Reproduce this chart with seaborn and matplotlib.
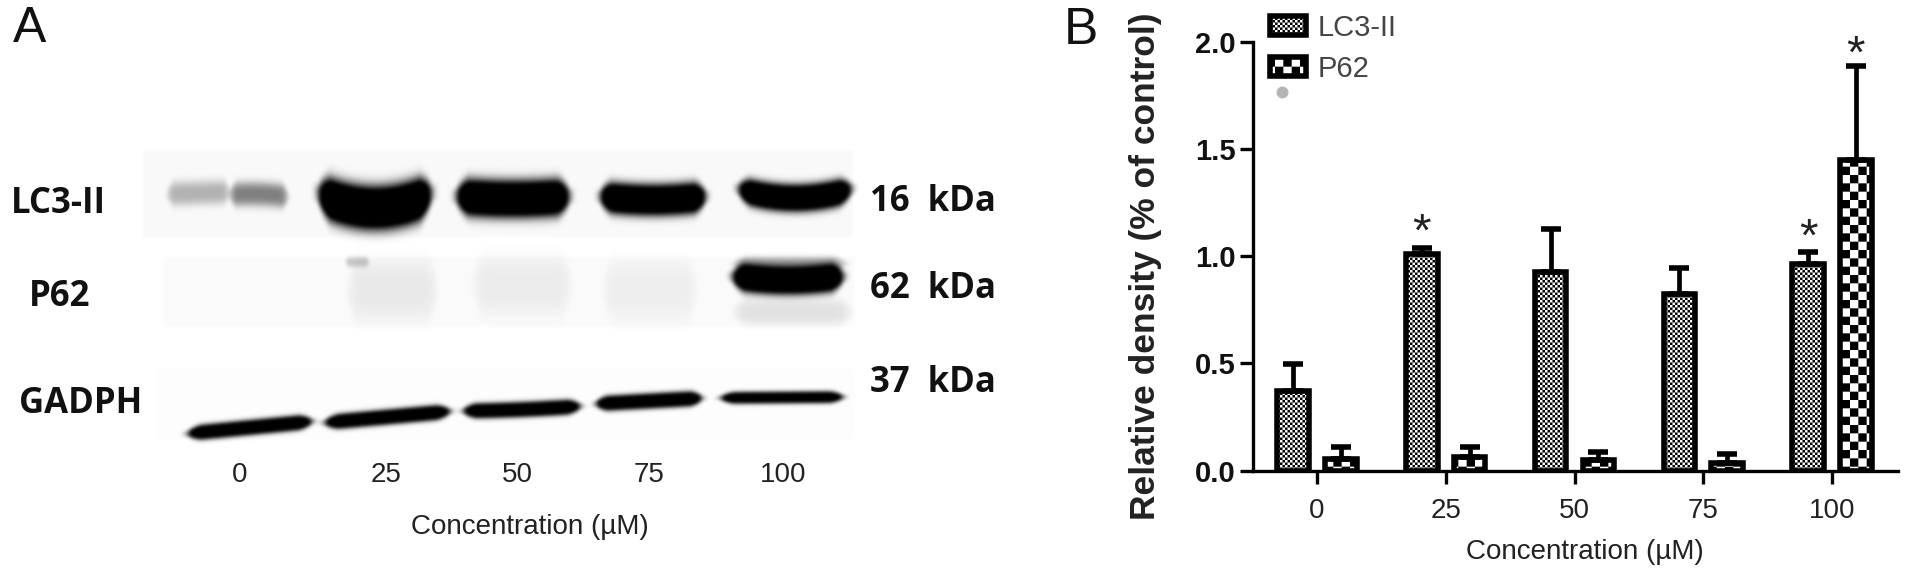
import numpy as np
import pandas as pd
import matplotlib
matplotlib.use('Agg')
import matplotlib.pyplot as plt
import matplotlib.hatch as mhatch
from matplotlib.path import Path
import seaborn as sns

# ---------- data ----------
concentrations = ['0', '25', '50', '75', '100']
series_names = ['LC3-II', 'P62']
lc3_values = [0.37, 1.012, 0.927, 0.826, 0.962]
lc3_errors = [0.128, 0.025, 0.198, 0.12, 0.057]
p62_values = [0.056, 0.064, 0.047, 0.036, 1.447]
p62_errors = [0.056, 0.048, 0.039, 0.039, 0.44]
star_lc3 = [None, 1.105, None, None, 1.08]
star_p62 = [None, None, None, None, 1.935]

# blot bands: x0, x1, y at x0, y at x1, sag, half height, darkness
lc3_bands = [(165, 232, 194, 192, 0, 12, 0.28), (228, 290, 195, 197, -2, 12, 0.48),
             (314, 436, 192, 192, 16, 21, 1.8), (452, 574, 196, 196, 3, 18, 1.7),
             (596, 710, 196, 196, 4, 15, 1.7), (734, 856, 188, 188, 10, 13, 1.7)]
p62_bands = [(728, 848, 276, 276, 5, 13, 1.7), (730, 850, 264, 264, 0, 7, 0.35),
             (345, 370, 262, 262, 0, 5, 0.20), (345, 440, 290, 290, 0, 30, 0.07),
             (470, 575, 285, 285, 0, 30, 0.06), (600, 700, 290, 290, 0, 30, 0.05),
             (730, 855, 312, 312, 0, 13, 0.10)]
gapdh_bands = [(183, 317, 434, 421, 0, 7, 1.7), (320, 455, 423, 411, 0, 7, 1.7),
               (459, 585, 411, 406, 1, 7, 1.7), (592, 706, 404, 398, 0, 7, 1.7),
               (716, 848, 398, 397, 0, 5.5, 1.6)]
# blot background panels: x0, x1, y0, y1, tint
blot_panels = [(143, 853, 150, 237, 0.025), (163, 855, 257, 327, 0.02), (155, 855, 368, 440, 0.01)]

blot_labels = ['LC3-II', 'P62', 'GADPH']
blot_kda = ['16  kDa', '62  kDa', '37  kDa']
blot_lanes = ['0', '25', '50', '75', '100']
xlabel_text = 'Concentration (µM)'
ylabel_text = 'Relative density (% of control)'


# ---------- checker hatch ----------
class Checker(mhatch.HatchPatternBase):
    def __init__(self, hatch, density):
        self.n = 20 if '.' in hatch else (6 if '*' in hatch else 0)
        self.num_vertices = self.n * self.n * 2 * 5

    def set_vertices_and_codes(self, vertices, codes):
        s = 0.5 / self.n
        k = 0
        for i in range(self.n):
            for j in range(self.n):
                for (ox, oy) in ((0, 0), (s, s)):
                    x, y = i * 2 * s + ox, j * 2 * s + oy
                    vertices[k:k + 5] = [(x, y), (x + s, y), (x + s, y + s), (x, y + s), (x, y)]
                    codes[k:k + 5] = [Path.MOVETO, Path.LINETO, Path.LINETO, Path.LINETO, Path.CLOSEPOLY]
                    k += 5


mhatch._hatch_types = [Checker]

sns.set_theme(style='white')
plt.rcParams['font.family'] = ['Liberation Sans', 'DejaVu Sans']
plt.rcParams['hatch.linewidth'] = 0.0

W, H = 1913, 576
fig = plt.figure(figsize=(W / 100, H / 100), dpi=100, facecolor='white')

# ---------- panel A ----------
sheet = fig.add_axes([0, 0, 1, 1])
sheet.set_xlim(0, W)
sheet.set_ylim(H, 0)
sheet.axis('off')

xx, yy = np.meshgrid(np.arange(W) + 0.5, np.arange(H) + 0.5)
dark = np.zeros((H, W))
for (x0, x1, y0, y1, tint) in blot_panels:
    dark += tint * ((xx > x0) & (xx < x1) & (yy > y0) & (yy < y1))
for (x0, x1, ya, yb, sag, hh, amp) in lc3_bands + p62_bands + gapdh_bands:
    t = (xx - x0) / (x1 - x0)
    yc = ya + (yb - ya) * t + sag * (1 - (2 * t - 1) ** 2)
    dx = np.abs(2 * t - 1)
    dy = np.abs(yy - yc) / (hh * np.clip(1.15 - dx ** 6, 0.4, 1))
    dark += amp * np.exp(-(dx / 0.92) ** 12) * np.exp(-dy ** 3)
dark = np.clip(dark, 0, 1)
for _ in range(3):
    dark = sum(np.roll(np.roll(dark, i, 0), j, 1) for i in (-1, 0, 1) for j in (-1, 0, 1)) / 9
img = 1 - dark
sheet.imshow(img, cmap='gray', vmin=0, vmax=1, extent=(0, W, H, 0), aspect='auto', interpolation='bilinear')

band_font = ['Open Sans', 'DejaVu Sans']
for (label, x, y) in zip(blot_labels, (58, 60, 81), (204, 297, 404)):
    sheet.text(x, y, label, ha='center', va='center', family=band_font, weight='bold', size=25, color='#111111')
for (label, y) in zip(blot_kda, (202, 289, 383)):
    sheet.text(933, y, label, ha='center', va='center', family=band_font, weight='bold', size=25, color='#111111')
for (label, x) in zip(blot_lanes, (240, 386, 517, 649, 783)):
    sheet.text(x, 475, label, ha='center', va='center', size=20, color='#222222')
sheet.text(530, 527, xlabel_text, ha='center', va='center', size=20, color='#222222')
sheet.text(30, 29, 'A', ha='center', va='center', size=36, color='#111111')
sheet.text(1081, 31, 'B', ha='center', va='center', size=37, color='#111111')
sheet.scatter([1282], [92], s=74, color='#b5b5b5', linewidths=0)

# ---------- panel B ----------
left, right, top, bottom = 1253, 1898, 42, 470.5
tick0, step = 1317, 128.75
ax = fig.add_axes([left / W, 1 - bottom / H, (right - left) / W, (bottom - top) / H])
ax.patch.set_alpha(0)

df = pd.DataFrame({
    'conc': concentrations * 2,
    'value': lc3_values + p62_values,
    'series': [series_names[0]] * 5 + [series_names[1]] * 5,
})
sns.barplot(data=df, x='conc', y='value', hue='series', order=concentrations, hue_order=series_names,
            palette=['white', 'white'], saturation=1, width=0.74, gap=0.34, errorbar=None,
            edgecolor='black', linewidth=4, legend=False, ax=ax)

star_sets = (star_lc3, star_p62)
for cont, hatch, vals, errs, stars in zip(ax.containers, ('.', '*'), (lc3_values, p62_values),
                                          (lc3_errors, p62_errors), star_sets):
    xs = []
    for bar in cont:
        bar.set_hatch(hatch)
        xs.append(bar.get_x() + bar.get_width() / 2)
    ax.errorbar(xs, vals, yerr=[np.zeros(len(errs)), errs], fmt='none', ecolor='black',
                elinewidth=3.4, capsize=7.5, capthick=4, zorder=1)
    for x, s in zip(xs, stars):
        if s is not None:
            ax.text(x, s, '*', ha='center', va='center', size=34, color='#222222', clip_on=False)

ax.set_xlim((left - tick0) / step, (right - tick0) / step)
ax.set_ylim(0, 2)
ax.set_yticks([0, 0.5, 1.0, 1.5, 2.0], ['0.0', '0.5', '1.0', '1.5', '2.0'])
sns.despine(ax=ax)
for side in ('left', 'bottom'):
    ax.spines[side].set_linewidth(2.4)
    ax.spines[side].set_color('black')
ax.tick_params(axis='both', bottom=True, left=True, length=9.5, width=2.4, color='black')
ax.tick_params(axis='y', labelsize=21, pad=3, labelcolor='#111111')
ax.tick_params(axis='x', labelsize=20, pad=10, labelcolor='#222222')
for lab in ax.get_yticklabels():
    lab.set_fontweight('bold')
ax.set_xlabel('')
ax.set_ylabel('')
sheet.text(1145, 266, ylabel_text, rotation=90, ha='center', va='center', size=25.5, weight='bold', color='#222222')
sheet.text(1585, 552, xlabel_text, ha='center', va='center', size=20, color='#222222')

leg = ax.legend(handles=[c[0] for c in ax.containers], labels=series_names, frameon=False, fontsize=21,
                loc='upper left', bbox_to_anchor=((1270 - left) / (right - left), 1 + 28 / (bottom - top)),
                borderaxespad=0, borderpad=0, handlelength=1.25, handleheight=0.63,
                labelspacing=0.45, handletextpad=0.38)
for t in leg.get_texts():
    t.set_color('#444444')

fig.savefig('out.png', dpi=100)
